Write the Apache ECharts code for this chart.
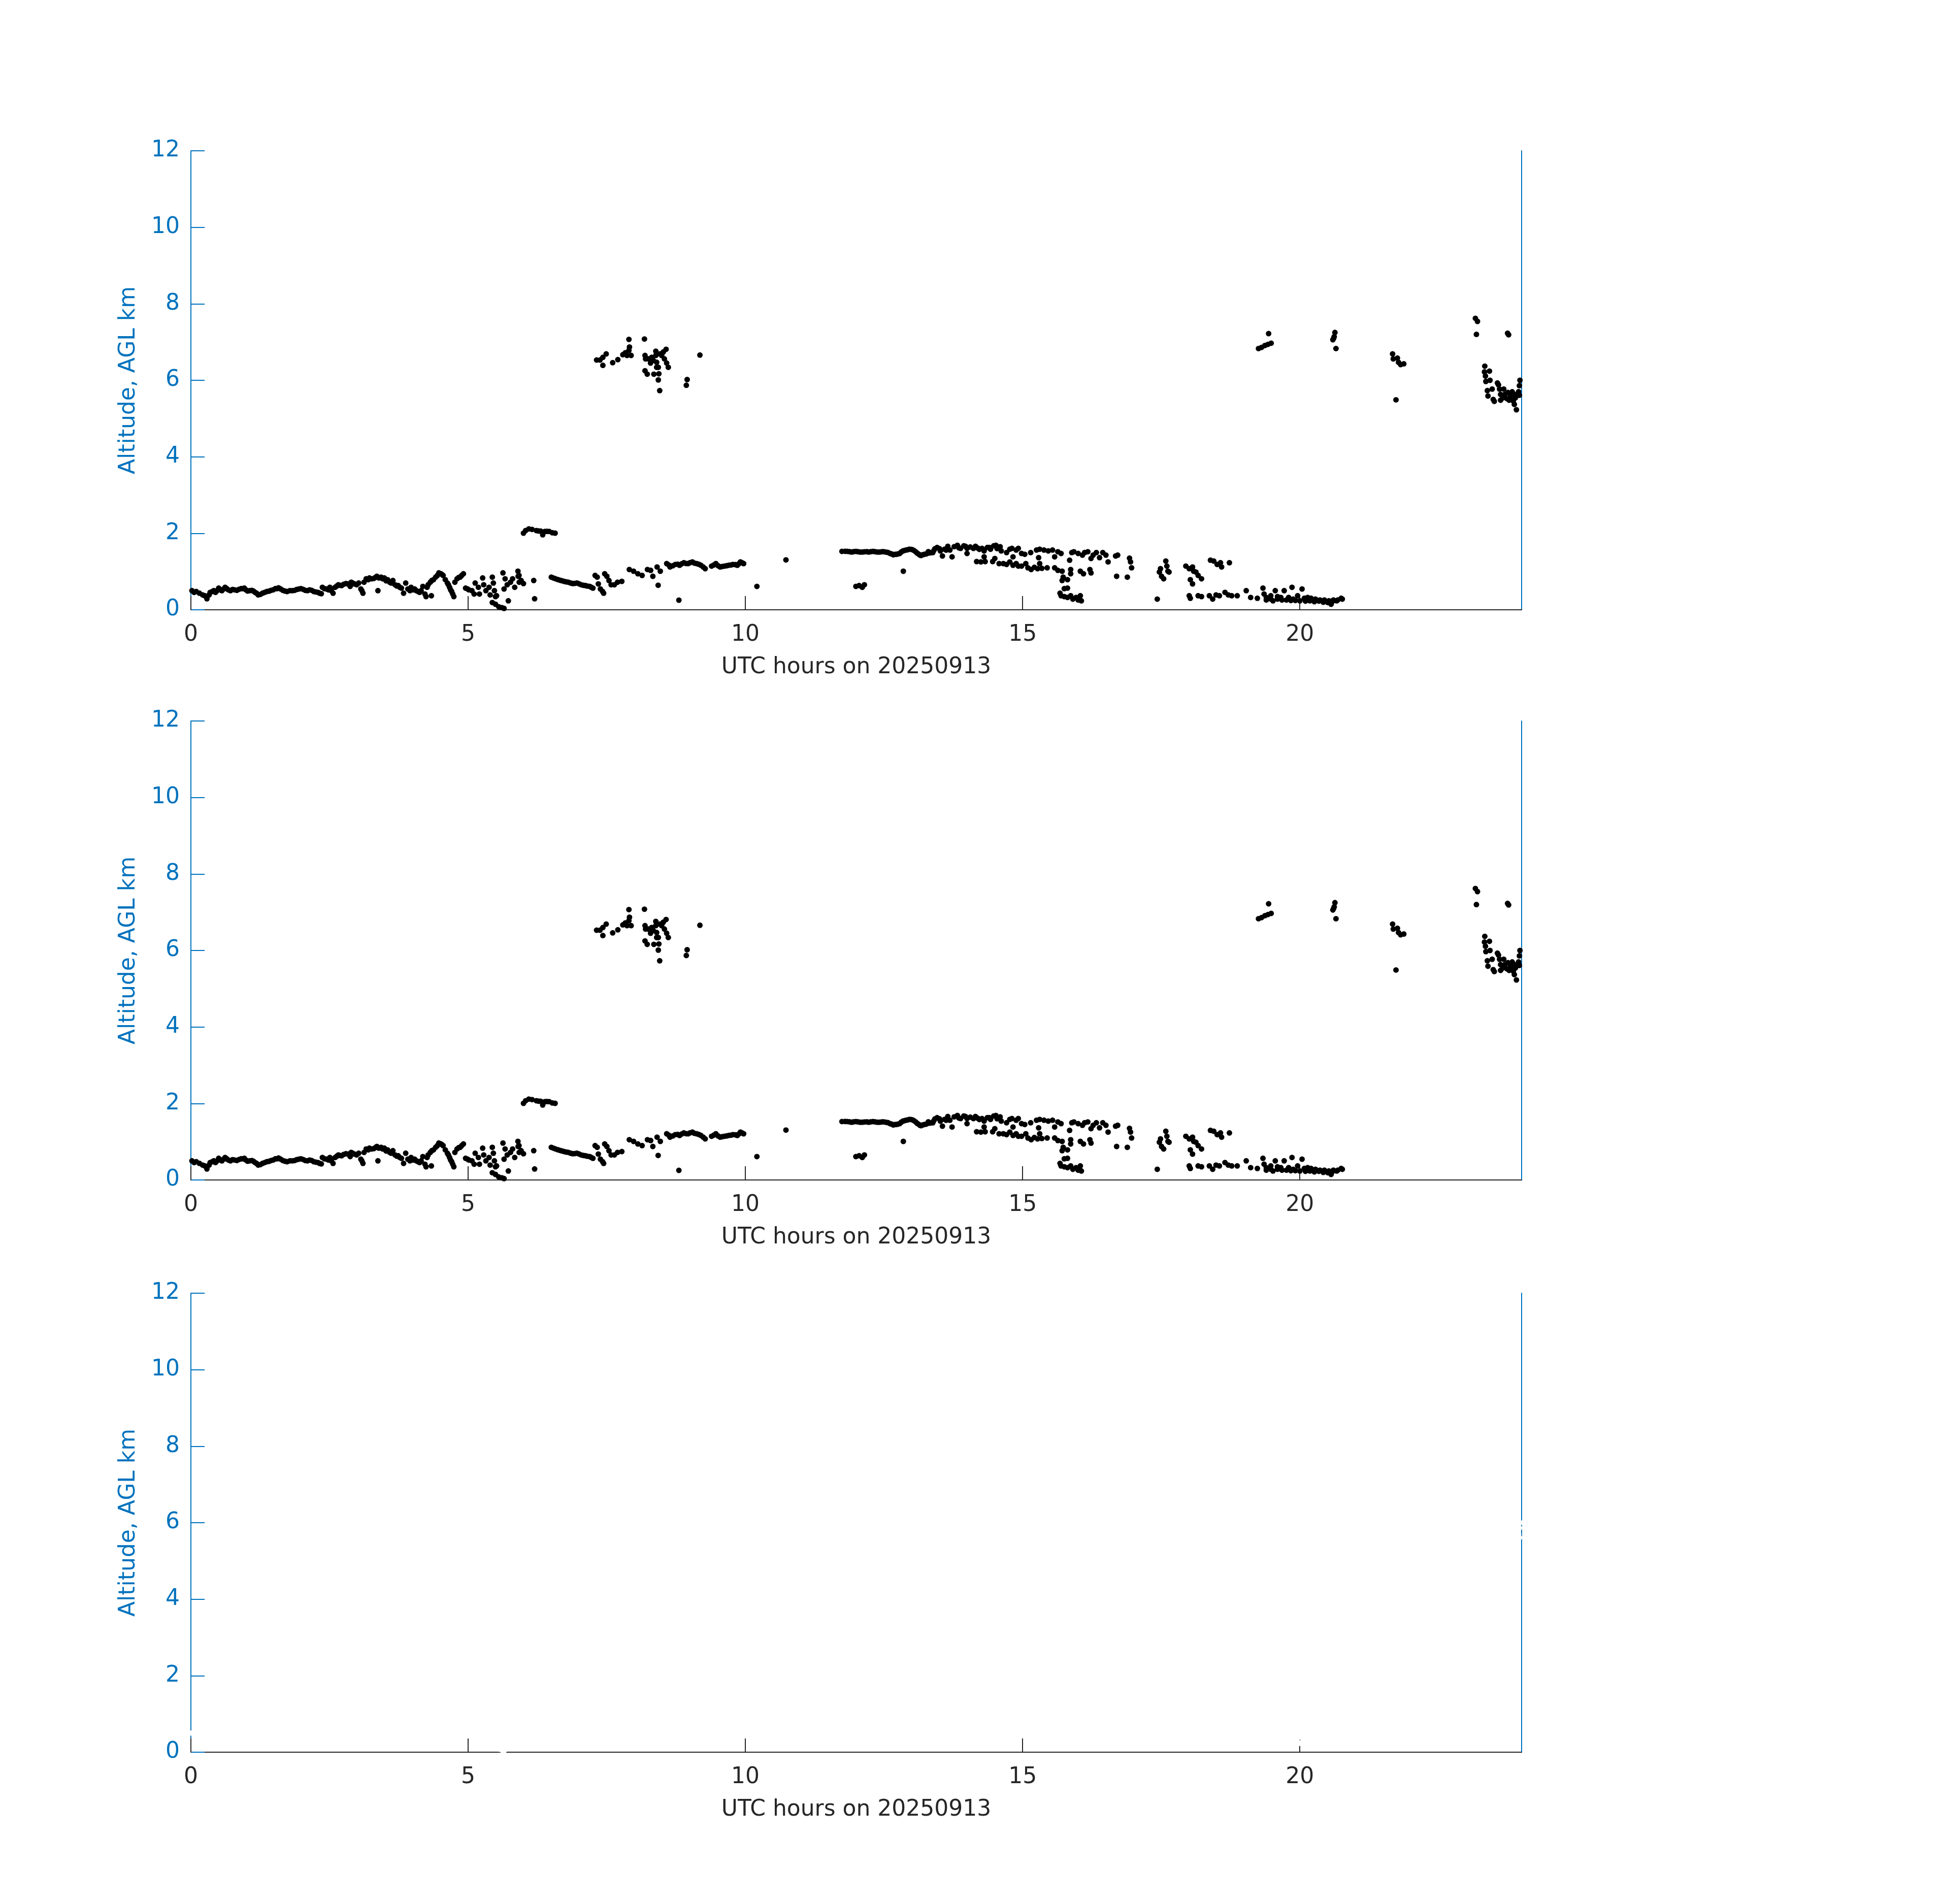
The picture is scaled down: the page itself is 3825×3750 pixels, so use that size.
<!DOCTYPE html>
<html>
<head>
<meta charset="utf-8">
<script src="https://cdn.jsdelivr.net/npm/echarts@6/dist/echarts.min.js"></script>
<style>
html,body{margin:0;padding:0;background:#fff;}
#chart{width:3825px;height:3750px;}
</style>
</head>
<body>
<div id="chart"></div>
<script>
// ---- tick labels ----
const xTicks = [0, 5, 10, 15, 20];
const yTicks = [0, 2, 4, 6, 8, 10, 12];
const xTitle = 'UTC hours on 20250913';
const yTitle = 'Altitude, AGL km';

// ---- cloud base detections [UTC hour, altitude km] ----
const boundaryLayerPts = [
[0.019,0.500],[0.058,0.456],[0.096,0.478],[0.154,0.434],[0.212,0.389],[0.251,0.367],[0.289,0.288],[0.328,0.389],[0.347,0.456],[0.386,0.478],[0.412,0.500],[0.443,0.456],[0.470,0.500],[0.501,0.566],[0.528,0.522],[0.559,0.500],[0.590,0.544],[0.617,0.588],[0.648,0.553],[0.675,0.522],[0.713,0.500],[0.752,0.531],[0.790,0.522],[0.829,0.509],[0.867,0.535],[0.906,0.553],[0.937,0.553],[0.964,0.566],[0.991,0.522],[1.022,0.491],[1.060,0.500],[1.099,0.509],[1.126,0.491],[1.157,0.456],[1.184,0.434],[1.214,0.389],[1.253,0.403],[1.291,0.434],[1.330,0.456],[1.369,0.478],[1.407,0.487],[1.446,0.509],[1.484,0.522],[1.523,0.553],[1.554,0.553],[1.581,0.575],[1.619,0.544],[1.658,0.509],[1.696,0.491],[1.735,0.478],[1.785,0.500],[1.831,0.500],[1.870,0.509],[1.908,0.531],[1.947,0.544],[1.985,0.553],[2.024,0.535],[2.062,0.509],[2.101,0.500],[2.140,0.522],[2.178,0.509],[2.217,0.478],[2.255,0.465],[2.294,0.456],[2.321,0.434],[2.352,0.420],[2.371,0.588],[2.409,0.553],[2.448,0.544],[2.479,0.522],[2.506,0.588],[2.533,0.500],[2.564,0.434],[2.602,0.588],[2.633,0.624],[2.660,0.655],[2.687,0.642],[2.718,0.633],[2.756,0.668],[2.795,0.686],[2.833,0.677],[2.872,0.611],[2.891,0.721],[2.918,0.699],[2.949,0.677],[2.988,0.655],[3.026,0.699],[3.065,0.544],[3.084,0.500],[3.103,0.434],[3.123,0.721],[3.161,0.810],[3.200,0.788],[3.219,0.832],[3.258,0.810],[3.296,0.819],[3.327,0.845],[3.354,0.876],[3.373,0.500],[3.392,0.832],[3.431,0.854],[3.458,0.810],[3.489,0.832],[3.520,0.757],[3.547,0.788],[3.585,0.721],[3.612,0.699],[3.643,0.765],[3.682,0.655],[3.712,0.624],[3.739,0.633],[3.766,0.588],[3.797,0.566],[3.836,0.434],[3.874,0.699],[3.913,0.544],[3.951,0.500],[3.971,0.588],[4.009,0.522],[4.036,0.544],[4.067,0.500],[4.098,0.478],[4.125,0.456],[4.152,0.500],[4.183,0.611],[4.221,0.412],[4.241,0.345],[4.260,0.588],[4.279,0.655],[4.318,0.721],[4.337,0.367],[4.345,0.765],[4.375,0.788],[4.414,0.854],[4.445,0.898],[4.472,0.965],[4.510,0.942],[4.530,0.920],[4.549,0.898],[4.588,0.788],[4.626,0.699],[4.645,0.655],[4.665,0.588],[4.684,0.522],[4.703,0.478],[4.722,0.412],[4.742,0.345],[4.761,0.721],[4.800,0.810],[4.830,0.845],[4.857,0.854],[4.884,0.898],[4.915,0.942],[4.954,0.566],[4.992,0.544],[5.012,0.522],[5.069,0.500],[5.108,0.412],[5.127,0.699],[5.185,0.588],[5.204,0.412],[5.262,0.832],[5.281,0.655],[5.320,0.500],[5.378,0.588],[5.397,0.389],[5.436,0.854],[5.455,0.699],[5.474,0.500],[5.436,0.190],[5.493,0.146],[5.551,0.080],[5.609,0.058],[5.648,0.035],[5.493,0.345],[5.513,0.367],[5.628,0.965],[5.667,0.810],[5.705,0.655],[5.648,0.544],[5.725,0.235],[5.764,0.721],[5.802,0.810],[5.840,0.588],[5.898,1.009],[5.902,0.876],[5.918,0.898],[5.921,0.721],[5.956,0.765],[5.998,0.686],
[6.183,0.765],[6.199,0.288],
[6.500,0.854],[6.540,0.830],[6.577,0.810],[6.620,0.790],[6.654,0.774],[6.690,0.760],[6.731,0.743],[6.770,0.730],[6.808,0.721],[6.850,0.700],[6.885,0.686],[6.920,0.690],[6.962,0.699],[7.000,0.680],[7.039,0.655],[7.080,0.640],[7.116,0.633],[7.150,0.620],[7.194,0.611],[7.220,0.590],[7.251,0.566],
[7.290,0.898],[7.328,0.854],[7.348,0.677],[7.386,0.544],[7.425,0.478],[7.444,0.434],[7.463,0.942],[7.502,0.876],[7.540,0.765],[7.579,0.655],[7.637,0.655],[7.695,0.721],[7.772,0.743],
[7.907,1.053],[7.984,1.009],[8.061,0.942],[8.138,0.898],
[8.234,1.053],[8.292,1.031],[8.331,0.876],[8.408,1.119],[8.427,0.642],[8.466,1.009],
[8.581,1.208],[8.620,1.170],[8.641,1.119],[8.690,1.150],[8.736,1.186],[8.780,1.190],[8.801,0.252],[8.813,1.164],[8.850,1.200],[8.890,1.230],[8.930,1.210],[8.967,1.208],[9.000,1.230],[9.044,1.252],[9.080,1.220],[9.122,1.208],[9.160,1.190],[9.199,1.164],[9.240,1.120],[9.276,1.075],
[9.391,1.142],[9.430,1.170],[9.468,1.208],[9.510,1.150],[9.545,1.119],[9.580,1.130],[9.622,1.142],[9.660,1.150],[9.699,1.164],[9.740,1.170],[9.776,1.186],[9.820,1.180],[9.854,1.164],[9.880,1.200],[9.911,1.252],[9.940,1.230],[9.969,1.208],
[10.208,0.611],[10.732,1.305],
[11.742,1.527],[11.800,1.530],[11.839,1.527],[11.880,1.520],[11.916,1.509],[11.950,1.520],[11.993,1.527],[12.030,1.520],[12.070,1.509],[12.110,1.510],[12.147,1.518],[12.190,1.520],[12.224,1.509],[12.260,1.520],[12.301,1.527],[12.340,1.520],[12.379,1.509],[12.420,1.510],[12.456,1.518],[12.490,1.520],[12.533,1.509],[12.570,1.500],[12.610,1.473],[12.640,1.460],[12.668,1.438],[12.700,1.450],[12.726,1.451],[12.750,1.460],[12.783,1.473],[12.810,1.510],[12.841,1.540],[12.870,1.550],[12.899,1.562],[12.930,1.570],[12.957,1.584],[12.990,1.580],[13.015,1.571],[13.040,1.550],[13.072,1.518],[13.100,1.480],[13.130,1.451],[13.150,1.430],[13.169,1.420],[13.200,1.440],[13.227,1.451],[13.260,1.460],[13.300,1.520],[13.304,1.482],[13.340,1.490],[13.381,1.496],[13.400,1.550],[13.419,1.597],[13.458,1.628],[13.500,1.600],[13.516,1.540],[13.554,1.407],[13.593,1.584],[13.620,1.560],[13.651,1.659],[13.689,1.562],[13.728,1.385],[13.766,1.650],[13.824,1.686],[13.850,1.620],[13.882,1.606],[13.940,1.673],[13.970,1.660],[13.998,1.473],[13.998,1.606],[14.056,1.642],[14.113,1.606],[14.150,1.660],[14.190,1.615],[14.220,1.580],[14.268,1.606],[14.306,1.540],[14.364,1.628],[14.400,1.630],[14.422,1.584],[14.480,1.673],[14.518,1.686],[14.540,1.600],[14.557,1.628],[14.595,1.650],[14.614,1.540],[14.711,1.496],[14.769,1.584],[14.807,1.606],[14.827,1.385],[14.884,1.562],[14.923,1.606],[14.981,1.473],[15.039,1.451],[15.146,1.496],[15.251,1.562],[15.289,1.363],[15.308,1.584],[15.386,1.562],[15.463,1.540],[15.540,1.562],[15.578,1.385],[15.636,1.518],[15.694,1.473],[15.848,1.297],[15.887,1.496],[15.925,1.518],[16.002,1.473],[16.079,1.429],[16.118,1.496],[16.176,1.518],[16.234,1.341],[16.272,1.429],[16.330,1.496],[16.388,1.363],[16.446,1.496],[16.503,1.429],[16.542,1.252],[16.677,1.407],[16.715,1.429],[16.928,1.350],[16.947,1.252],[16.966,1.097],
[14.171,1.261],[14.248,1.252],[14.306,1.385],[14.325,1.261],[14.460,1.261],[14.499,1.341],[14.576,1.208],[14.653,1.208],[14.711,1.186],[14.769,1.252],[14.827,1.164],[14.884,1.208],[14.923,1.142],[14.981,1.142],[15.058,1.208],[15.096,1.097],[15.154,1.053],[15.212,1.111],[15.270,1.075],[15.308,1.208],[15.347,1.084],[15.443,1.097],[15.578,1.097],[15.636,1.031],[15.713,1.009],[15.867,0.942],[15.867,1.053],[16.041,1.009],[16.098,0.942],[16.214,1.053],[16.234,0.965],
[15.732,0.854],[15.713,0.765],[15.810,0.788],[16.696,0.876],[16.889,0.854],
[15.675,0.434],[15.694,0.367],[15.752,0.553],[15.810,0.566],[15.752,0.345],[15.810,0.323],[15.867,0.367],[15.906,0.279],[15.964,0.323],[16.002,0.257],[16.041,0.367],[16.060,0.235],
[12.849,1.009],[11.993,0.611],[12.051,0.633],[12.109,0.588],[12.147,0.655],
[17.583,1.274],[17.602,1.142],[17.621,1.009],[17.487,1.075],[17.467,0.987],[17.506,0.876],[17.544,0.810],[17.641,0.987],[17.429,0.279],
[17.944,1.142],[18.005,1.075],[18.065,1.119],[18.085,1.009],[18.126,0.987],[18.166,0.898],[18.227,0.810],[18.025,0.788],[18.065,0.677],
[18.388,1.296],[18.448,1.274],[18.509,1.186],[18.589,1.119],[18.569,1.230],[18.730,1.230],
[18.005,0.367],[18.025,0.301],[18.166,0.367],[18.227,0.345],[18.368,0.367],[18.428,0.279],[18.489,0.389],[18.549,0.367],[18.650,0.456],[18.710,0.389],[18.771,0.367],[18.871,0.367],[19.033,0.500],[19.113,0.323],[19.234,0.301],[19.335,0.566],[19.355,0.412],[19.395,0.323],[19.395,0.257],[19.476,0.279],[19.476,0.367],[19.516,0.235],[19.557,0.500],[19.597,0.345],[19.597,0.279],[19.657,0.323],[19.678,0.257],[19.718,0.500],[19.758,0.257],[19.798,0.323],[19.839,0.243],[19.859,0.588],[19.879,0.279],[19.919,0.243],[19.960,0.367],[20.000,0.235],[20.040,0.544],[20.081,0.301],[20.101,0.226],[20.141,0.323],[20.181,0.235],[20.202,0.301],[20.262,0.212],[20.282,0.279],[20.343,0.226],[20.363,0.257],[20.423,0.199],[20.443,0.257],[20.504,0.190],[20.524,0.235],[20.564,0.146],[20.584,0.212],[20.605,0.257],[20.665,0.235],[20.685,0.257],[20.746,0.301],[20.766,0.279]
];

const midLayerPts = [
[5.998,2.004],[6.037,2.071],[6.095,2.115],[6.153,2.102],[6.230,2.071],[6.270,2.060],[6.307,2.058],[6.345,1.960],[6.384,2.049],[6.420,2.050],[6.461,2.049],[6.519,2.013],[6.569,2.004]
];

const highCloudPts = [
[7.317,6.53],[7.378,6.53],[7.43,6.60],[7.49,6.69],[7.43,6.39],[7.607,6.46],[7.70,6.54],[7.79,6.67],[7.836,6.72],[7.866,6.65],[7.90,6.78],[7.91,6.87],[7.94,6.65],[7.90,7.07],
[8.18,7.08],[8.19,6.65],[8.20,6.56],[8.25,6.56],[8.31,6.60],[8.29,6.45],[8.34,6.52],[8.385,6.76],[8.385,6.65],[8.40,6.47],[8.43,6.34],[8.46,6.69],[8.49,6.65],[8.52,6.74],[8.57,6.81],[8.54,6.56],[8.58,6.45],[8.61,6.34],[8.40,6.34],[8.19,6.25],[8.23,6.16],[8.35,6.16],[8.44,6.17],[8.43,6.01],[8.455,5.73],[8.95,6.02],[8.935,5.87],[9.18,6.66],
[19.255,6.83],[19.31,6.86],[19.37,6.91],[19.426,6.94],[19.483,6.97],[19.437,7.22],
[20.633,7.25],[20.62,7.14],[20.596,7.06],[20.61,7.10],[20.652,6.83],
[21.673,6.69],[21.685,6.56],[21.76,6.58],[21.78,6.47],[21.818,6.41],[21.875,6.43],[21.734,5.49],
[23.166,7.62],[23.204,7.54],[23.185,7.20],[23.747,7.23],[23.766,7.19],
[23.336,6.37],[23.33,6.22],[23.42,6.24],[23.348,6.11],[23.355,5.97],[23.43,6.00],[23.564,5.93],[23.583,5.88],[23.382,5.73],[23.469,5.77],[23.393,5.59],[23.488,5.50],[23.507,5.45],[23.602,5.77],[23.621,5.63],[23.621,5.48],[23.678,5.77],[23.697,5.63],[23.754,5.68],[23.774,5.48],[23.812,5.57],[23.83,5.70],[23.85,5.46],[23.869,5.37],[23.887,5.54],[23.906,5.23],[23.925,5.61],[23.945,5.70],[23.96,5.61],[23.96,5.86],[23.97,6.00],[23.793,5.63],[23.735,5.52],[23.66,5.54],[23.869,5.63],[23.83,5.54]
];

const allPts = boundaryLayerPts.concat(midLayerPts, highCloudPts);

// ---- layout ----
const BLUE = '#0072BD';
const DARK = '#262626';
const gridTops = [297, 1420, 2547];
const markColors = ['#000000', '#000000', '#ffffff'];

const grids = [], xAxes = [], yAxes = [], series = [];
gridTops.forEach((top, i) => {
  grids.push({left: 376, top: top, width: 2621, height: 904, containLabel: false});
  xAxes.push({
    type: 'value', gridIndex: i, min: 0, max: 24, interval: 5,
    name: xTitle, nameLocation: 'middle', nameGap: 92,
    nameTextStyle: {fontSize: 44, color: DARK, fontFamily: 'DejaVu Sans'},
    axisLine: {show: true, onZero: false, lineStyle: {color: DARK, width: 2}},
    axisTick: {show: true, inside: true, length: 27, customValues: xTicks, lineStyle: {color: DARK, width: 2}},
    axisLabel: {show: true, margin: 28, fontSize: 44, color: DARK, fontFamily: 'DejaVu Sans', customValues: xTicks},
    splitLine: {show: false}
  });
  yAxes.push({
    type: 'value', gridIndex: i, position: 'left', min: 0, max: 12, interval: 2,
    name: yTitle, nameLocation: 'middle', nameGap: 100,
    nameTextStyle: {fontSize: 44, color: BLUE, fontFamily: 'DejaVu Sans'},
    axisLine: {show: true, onZero: false, lineStyle: {color: BLUE, width: 2}},
    axisTick: {show: true, inside: true, length: 27, customValues: yTicks, lineStyle: {color: BLUE, width: 2}},
    axisLabel: {show: true, margin: 22, fontSize: 44, color: BLUE, fontFamily: 'DejaVu Sans', customValues: yTicks},
    splitLine: {show: false}
  });
  yAxes.push({
    type: 'value', gridIndex: i, position: 'right', min: 0, max: 12,
    axisLine: {show: true, onZero: false, lineStyle: {color: BLUE, width: 2}},
    axisTick: {show: false}, axisLabel: {show: false}, splitLine: {show: false}
  });
  series.push({
    type: 'scatter', xAxisIndex: i, yAxisIndex: 2 * i,
    data: allPts, symbol: 'circle', symbolSize: 11, clip: false,
    itemStyle: {color: markColors[i], opacity: 1},
    emphasis: {disabled: true}, z: 5
  });
});

const chart = echarts.init(document.getElementById('chart'), null, {renderer: 'canvas'});
chart.setOption({
  animation: false,
  backgroundColor: '#ffffff',
  textStyle: {fontFamily: 'DejaVu Sans'},
  grid: grids, xAxis: xAxes, yAxis: yAxes, series: series
});
</script>
</body>
</html>
